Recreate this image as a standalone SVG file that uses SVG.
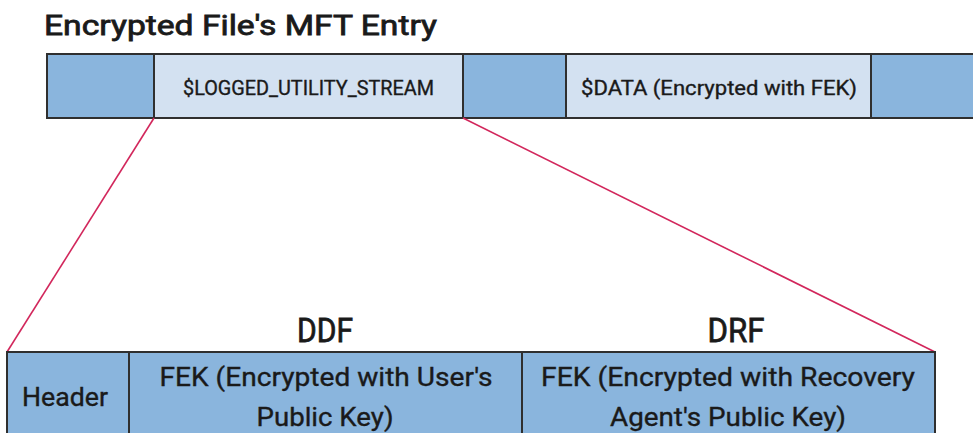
<svg xmlns="http://www.w3.org/2000/svg" width="973" height="433" viewBox="0 0 973 433">
  <style>
    .dark { fill: #8ab5dd; stroke: #2f2f2f; stroke-width: 2; }
    .light { fill: #d3e1f1; stroke: #2f2f2f; stroke-width: 2; }
    .lbl { font-family: Roboto, "Liberation Sans", sans-serif; font-weight: 400; fill: #1a1a1a; stroke: #1a1a1a; stroke-width: 0.35; }
    .head { stroke-width: 0.8; }
    .link { stroke: #d2275c; stroke-width: 1.6; fill: none; }
  </style>
  <rect width="973" height="433" fill="#ffffff"/>

  <text class="lbl head" x="44" y="35" font-size="28" textLength="393" lengthAdjust="spacingAndGlyphs">Encrypted File's MFT Entry</text>

  <!-- MFT entry bar -->
  <g id="mft-attr-1"><rect class="dark" x="47" y="54" width="107" height="64"/></g>
  <g id="mft-logged-utility-stream">
    <rect class="light" x="154" y="54" width="309" height="64"/>
    <text class="lbl" x="308.5" y="95" font-size="20" text-anchor="middle" textLength="251" lengthAdjust="spacingAndGlyphs">$LOGGED_UTILITY_STREAM</text>
  </g>
  <g id="mft-attr-2"><rect class="dark" x="463" y="54" width="103" height="64"/></g>
  <g id="mft-data">
    <rect class="light" x="566" y="54" width="305" height="64"/>
    <text class="lbl" x="719" y="95" font-size="20" text-anchor="middle" textLength="276" lengthAdjust="spacingAndGlyphs">$DATA (Encrypted with FEK)</text>
  </g>
  <g id="mft-attr-3"><rect class="dark" x="871" y="54" width="110" height="64"/></g>

  <!-- expansion lines -->
  <g id="connectors">
    <line class="link" x1="154" y1="118" x2="7" y2="352"/>
    <line class="link" x1="463" y1="118" x2="935" y2="352"/>
  </g>

  <!-- section titles -->
  <text class="lbl head" x="325" y="342" font-size="34" text-anchor="middle" textLength="56" lengthAdjust="spacingAndGlyphs">DDF</text>
  <text class="lbl head" x="736" y="342" font-size="34" text-anchor="middle" textLength="57" lengthAdjust="spacingAndGlyphs">DRF</text>

  <!-- stream contents bar -->
  <g id="header">
    <rect class="dark" x="7" y="352" width="122" height="90"/>
    <text class="lbl" x="65" y="406" font-size="25" text-anchor="middle" textLength="86" lengthAdjust="spacingAndGlyphs">Header</text>
  </g>
  <g id="ddf-fek">
    <rect class="dark" x="129" y="352" width="393" height="90"/>
    <text class="lbl" x="326" y="386" font-size="25" text-anchor="middle" textLength="333" lengthAdjust="spacingAndGlyphs">FEK (Encrypted with User's</text>
    <text class="lbl" x="325" y="426" font-size="25" text-anchor="middle" textLength="137" lengthAdjust="spacingAndGlyphs">Public Key)</text>
  </g>
  <g id="drf-fek">
    <rect class="dark" x="522" y="352" width="413" height="90"/>
    <text class="lbl" x="728" y="386" font-size="25" text-anchor="middle" textLength="374" lengthAdjust="spacingAndGlyphs">FEK (Encrypted with Recovery</text>
    <text class="lbl" x="728" y="426" font-size="25" text-anchor="middle" textLength="236" lengthAdjust="spacingAndGlyphs">Agent's Public Key)</text>
  </g>
</svg>
